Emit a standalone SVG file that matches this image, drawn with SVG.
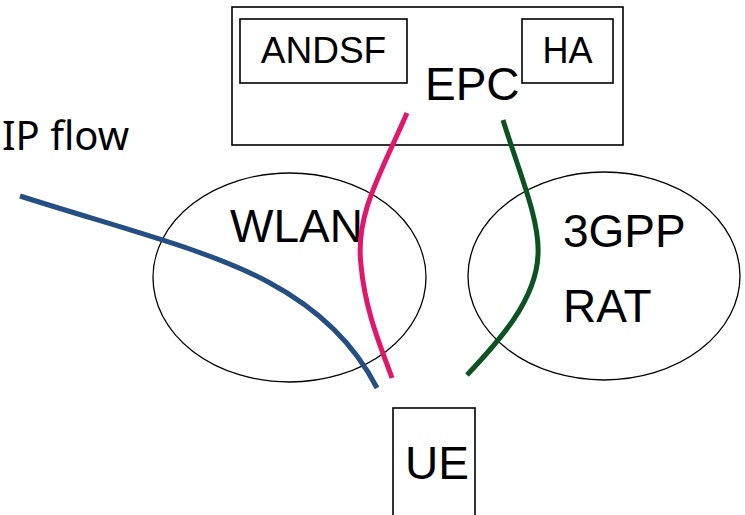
<svg xmlns="http://www.w3.org/2000/svg" width="745" height="515" viewBox="0 0 745 515">
<style>
.box{fill:none;stroke:#000;stroke-width:1.6}
.ell{fill:none;stroke:#000;stroke-width:1.3}
.t{font-family:"Liberation Sans",Arial,sans-serif;fill:#000}
.flow{fill:none;stroke-width:5;stroke-linecap:butt}
</style>
<rect width="745" height="515" fill="#fff"/>
<g id="epc">
<rect class="box" x="232" y="7" width="391" height="138"/>
<text class="t" x="425" y="100" font-size="46">EPC</text>
</g>
<g id="andsf">
<rect class="box" x="240" y="19" width="167" height="64"/>
<text class="t" x="323.5" y="63" font-size="37" text-anchor="middle">ANDSF</text>
</g>
<g id="ha">
<rect class="box" x="522" y="19" width="91" height="64"/>
<text class="t" x="567.5" y="63" font-size="36" text-anchor="middle">HA</text>
</g>
<g id="wlan">
<ellipse class="ell" cx="289.5" cy="277.5" rx="136.5" ry="104.5"/>
<text class="t" x="230" y="242" font-size="46">WLAN</text>
</g>
<g id="rat">
<ellipse class="ell" cx="604" cy="276" rx="136" ry="104"/>
<text class="t" x="563" y="247" font-size="46">3GPP</text>
<text class="t" x="563" y="322" font-size="46">RAT</text>
</g>
<g id="ue">
<rect class="box" x="393" y="408" width="82" height="112"/>
<text class="t" x="405" y="479" font-size="46">UE</text>
</g>
<g id="ipflow">
<text x="2" y="150" font-size="40" font-family="'Noto Sans','Open Sans',sans-serif" fill="#000">IP flow</text>
</g>
<g id="connectors">
<path class="flow" stroke="#254F83" d="M20,196 C120,228 210,250 270,283 C320,310 355,345 377,388"/>
<path class="flow" stroke="#E2166A" d="M407,113 C380,175 355,215 361,265 C365,310 380,345 392,378"/>
<path class="flow" stroke="#0C5321" d="M503,120 C520,175 540,220 538,255 C536,300 500,340 467,375"/>
</g>
</svg>
